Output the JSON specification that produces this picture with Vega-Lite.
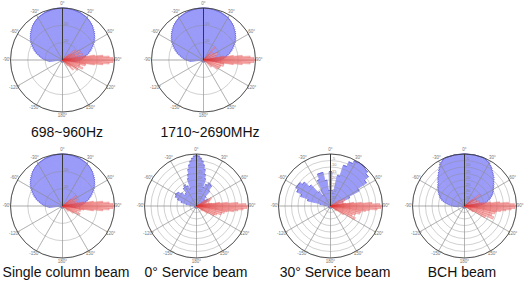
{
"$schema":"https://vega.github.io/schema/vega-lite/v6.json",
"padding":0,
"background":"white",
"spacing":6,
"config":{"view":{"stroke":null},"title":{"orient":"bottom","anchor":"middle","fontSize":14,"fontWeight":"normal","font":"Liberation Sans","color":"#111"}},
"datasets":{
"blue1":[{"a":-96.25,"b":-93.75,"r":0.26},{"a":-93.75,"b":-91.25,"r":0.295},{"a":-91.25,"b":-88.75,"r":0.33},{"a":-88.75,"b":-86.25,"r":0.36},{"a":-86.25,"b":-83.75,"r":0.39},{"a":-83.75,"b":-81.25,"r":0.42},{"a":-81.25,"b":-78.75,"r":0.45},{"a":-78.75,"b":-76.25,"r":0.485},{"a":-76.25,"b":-73.75,"r":0.52},{"a":-73.75,"b":-71.25,"r":0.55},{"a":-71.25,"b":-68.75,"r":0.58},{"a":-68.75,"b":-66.25,"r":0.61},{"a":-66.25,"b":-63.75,"r":0.64},{"a":-63.75,"b":-61.25,"r":0.67},{"a":-61.25,"b":-58.75,"r":0.70},{"a":-58.75,"b":-56.25,"r":0.725},{"a":-56.25,"b":-53.75,"r":0.75},{"a":-53.75,"b":-51.25,"r":0.775},{"a":-51.25,"b":-48.75,"r":0.80},{"a":-48.75,"b":-46.25,"r":0.82},{"a":-46.25,"b":-43.75,"r":0.84},{"a":-43.75,"b":-41.25,"r":0.86},{"a":-41.25,"b":-38.75,"r":0.88},{"a":-38.75,"b":-36.25,"r":0.895},{"a":-36.25,"b":-33.75,"r":0.91},{"a":-33.75,"b":-31.25,"r":0.925},{"a":-31.25,"b":-28.75,"r":0.94},{"a":-28.75,"b":-26.25,"r":0.948},{"a":-26.25,"b":-23.75,"r":0.955},{"a":-23.75,"b":-21.25,"r":0.963},{"a":-21.25,"b":-18.75,"r":0.97},{"a":-18.75,"b":-16.25,"r":0.975},{"a":-16.25,"b":-13.75,"r":0.98},{"a":-13.75,"b":-11.25,"r":0.985},{"a":-11.25,"b":-8.75,"r":0.99},{"a":-8.75,"b":-6.25,"r":0.995},{"a":-6.25,"b":6.25,"r":1.0},{"a":6.25,"b":8.75,"r":0.995},{"a":8.75,"b":11.25,"r":0.99},{"a":11.25,"b":13.75,"r":0.985},{"a":13.75,"b":16.25,"r":0.98},{"a":16.25,"b":18.75,"r":0.975},{"a":18.75,"b":21.25,"r":0.97},{"a":21.25,"b":23.75,"r":0.963},{"a":23.75,"b":26.25,"r":0.955},{"a":26.25,"b":28.75,"r":0.948},{"a":28.75,"b":31.25,"r":0.94},{"a":31.25,"b":33.75,"r":0.925},{"a":33.75,"b":36.25,"r":0.91},{"a":36.25,"b":38.75,"r":0.895},{"a":38.75,"b":41.25,"r":0.88},{"a":41.25,"b":43.75,"r":0.86},{"a":43.75,"b":46.25,"r":0.84},{"a":46.25,"b":48.75,"r":0.82},{"a":48.75,"b":51.25,"r":0.80},{"a":51.25,"b":53.75,"r":0.775},{"a":53.75,"b":56.25,"r":0.75},{"a":56.25,"b":58.75,"r":0.725},{"a":58.75,"b":61.25,"r":0.70},{"a":61.25,"b":63.75,"r":0.67},{"a":63.75,"b":66.25,"r":0.64},{"a":66.25,"b":68.75,"r":0.61},{"a":68.75,"b":71.25,"r":0.58},{"a":71.25,"b":73.75,"r":0.55},{"a":73.75,"b":76.25,"r":0.52},{"a":76.25,"b":78.75,"r":0.485},{"a":78.75,"b":81.25,"r":0.45},{"a":81.25,"b":83.75,"r":0.42},{"a":83.75,"b":86.25,"r":0.39},{"a":86.25,"b":88.75,"r":0.36},{"a":88.75,"b":91.25,"r":0.33},{"a":91.25,"b":93.75,"r":0.295},{"a":93.75,"b":96.25,"r":0.26},{"a":96.25,"b":263.75,"r":0.04}],
"blueS0":[{"a":-87.5,"b":-82.5,"r":0.12},{"a":-82.5,"b":-77.5,"r":0.2},{"a":-77.5,"b":-72.5,"r":0.3},{"a":-72.5,"b":-67.5,"r":0.38},{"a":-67.5,"b":-62.5,"r":0.44},{"a":-62.5,"b":-57.5,"r":0.46},{"a":-57.5,"b":-52.5,"r":0.44},{"a":-52.5,"b":-47.5,"r":0.38},{"a":-47.5,"b":-42.5,"r":0.3},{"a":-42.5,"b":-37.5,"r":0.32},{"a":-37.5,"b":-32.5,"r":0.42},{"a":-32.5,"b":-27.5,"r":0.46},{"a":-27.5,"b":-22.5,"r":0.42},{"a":-22.5,"b":-18.75,"r":0.35},{"a":-18.75,"b":-16.25,"r":0.55},{"a":-16.25,"b":-13.75,"r":0.63},{"a":-13.75,"b":-11.25,"r":0.72},{"a":-11.25,"b":-8.75,"r":0.8},{"a":-8.75,"b":-6.25,"r":0.87},{"a":-6.25,"b":-3.75,"r":0.92},{"a":-3.75,"b":-1.25,"r":0.96},{"a":-1.25,"b":1.25,"r":0.97},{"a":1.25,"b":3.75,"r":0.96},{"a":3.75,"b":6.25,"r":0.92},{"a":6.25,"b":8.75,"r":0.87},{"a":8.75,"b":11.25,"r":0.8},{"a":11.25,"b":13.75,"r":0.72},{"a":13.75,"b":16.25,"r":0.63},{"a":16.25,"b":18.75,"r":0.55},{"a":18.75,"b":22.5,"r":0.38},{"a":22.5,"b":27.5,"r":0.45},{"a":27.5,"b":32.5,"r":0.5},{"a":32.5,"b":37.5,"r":0.48},{"a":37.5,"b":42.5,"r":0.38},{"a":42.5,"b":47.5,"r":0.25},{"a":47.5,"b":52.5,"r":0.18},{"a":52.5,"b":57.5,"r":0.2},{"a":57.5,"b":62.5,"r":0.25},{"a":62.5,"b":67.5,"r":0.22},{"a":67.5,"b":72.5,"r":0.15},{"a":72.5,"b":77.5,"r":0.1},{"a":77.5,"b":272.5,"r":0.04}],
"blueS30":[{"a":-87.5,"b":-82.5,"r":0.1},{"a":-82.5,"b":-77.5,"r":0.2},{"a":-77.5,"b":-72.5,"r":0.45},{"a":-72.5,"b":-67.5,"r":0.6},{"a":-67.5,"b":-62.5,"r":0.7},{"a":-62.5,"b":-57.5,"r":0.75},{"a":-57.5,"b":-52.5,"r":0.74},{"a":-52.5,"b":-47.5,"r":0.68},{"a":-47.5,"b":-42.5,"r":0.55},{"a":-42.5,"b":-37.5,"r":0.35},{"a":-37.5,"b":-32.5,"r":0.25},{"a":-32.5,"b":-27.5,"r":0.35},{"a":-27.5,"b":-22.5,"r":0.55},{"a":-22.5,"b":-17.5,"r":0.66},{"a":-17.5,"b":-12.5,"r":0.66},{"a":-12.5,"b":-7.5,"r":0.5},{"a":-7.5,"b":-2.5,"r":0.3},{"a":-2.5,"b":2.5,"r":0.66},{"a":2.5,"b":7.5,"r":0.3},{"a":7.5,"b":12.5,"r":0.25},{"a":12.5,"b":17.5,"r":0.6},{"a":17.5,"b":22.5,"r":0.82},{"a":22.5,"b":27.5,"r":0.92},{"a":27.5,"b":32.5,"r":0.98},{"a":32.5,"b":37.5,"r":1.0},{"a":37.5,"b":42.5,"r":1.0},{"a":42.5,"b":47.5,"r":0.97},{"a":47.5,"b":52.5,"r":0.92},{"a":52.5,"b":57.5,"r":0.82},{"a":57.5,"b":62.5,"r":0.62},{"a":62.5,"b":67.5,"r":0.4},{"a":67.5,"b":72.5,"r":0.25},{"a":72.5,"b":77.5,"r":0.15},{"a":77.5,"b":272.5,"r":0.04}],
"blueB":[{"a":-96.25,"b":-93.75,"r":0.15},{"a":-93.75,"b":-91.25,"r":0.185},{"a":-91.25,"b":-88.75,"r":0.22},{"a":-88.75,"b":-86.25,"r":0.26},{"a":-86.25,"b":-83.75,"r":0.30},{"a":-83.75,"b":-81.25,"r":0.34},{"a":-81.25,"b":-78.75,"r":0.38},{"a":-78.75,"b":-76.25,"r":0.415},{"a":-76.25,"b":-73.75,"r":0.45},{"a":-73.75,"b":-71.25,"r":0.475},{"a":-71.25,"b":-68.75,"r":0.50},{"a":-68.75,"b":-66.25,"r":0.52},{"a":-66.25,"b":-63.75,"r":0.54},{"a":-63.75,"b":-61.25,"r":0.56},{"a":-61.25,"b":-58.75,"r":0.58},{"a":-58.75,"b":-56.25,"r":0.60},{"a":-56.25,"b":-53.75,"r":0.62},{"a":-53.75,"b":-51.25,"r":0.64},{"a":-51.25,"b":-48.75,"r":0.66},{"a":-48.75,"b":-46.25,"r":0.69},{"a":-46.25,"b":-43.75,"r":0.72},{"a":-43.75,"b":-41.25,"r":0.75},{"a":-41.25,"b":-38.75,"r":0.78},{"a":-38.75,"b":-36.25,"r":0.815},{"a":-36.25,"b":-33.75,"r":0.85},{"a":-33.75,"b":-31.25,"r":0.89},{"a":-31.25,"b":-28.75,"r":0.93},{"a":-28.75,"b":-26.25,"r":0.955},{"a":-26.25,"b":-23.75,"r":0.98},{"a":-23.75,"b":-21.25,"r":0.99},{"a":-21.25,"b":21.25,"r":1.0},{"a":21.25,"b":23.75,"r":0.99},{"a":23.75,"b":26.25,"r":0.98},{"a":26.25,"b":28.75,"r":0.965},{"a":28.75,"b":31.25,"r":0.95},{"a":31.25,"b":33.75,"r":0.925},{"a":33.75,"b":36.25,"r":0.9},{"a":36.25,"b":38.75,"r":0.87},{"a":38.75,"b":41.25,"r":0.84},{"a":41.25,"b":43.75,"r":0.815},{"a":43.75,"b":46.25,"r":0.79},{"a":46.25,"b":48.75,"r":0.76},{"a":48.75,"b":51.25,"r":0.73},{"a":51.25,"b":53.75,"r":0.705},{"a":53.75,"b":56.25,"r":0.68},{"a":56.25,"b":58.75,"r":0.66},{"a":58.75,"b":61.25,"r":0.64},{"a":61.25,"b":63.75,"r":0.62},{"a":63.75,"b":66.25,"r":0.60},{"a":66.25,"b":68.75,"r":0.575},{"a":68.75,"b":71.25,"r":0.55},{"a":71.25,"b":73.75,"r":0.52},{"a":73.75,"b":76.25,"r":0.49},{"a":76.25,"b":78.75,"r":0.455},{"a":78.75,"b":81.25,"r":0.42},{"a":81.25,"b":83.75,"r":0.375},{"a":83.75,"b":86.25,"r":0.33},{"a":86.25,"b":88.75,"r":0.285},{"a":88.75,"b":91.25,"r":0.24},{"a":91.25,"b":93.75,"r":0.2},{"a":93.75,"b":96.25,"r":0.16},{"a":96.25,"b":263.75,"r":0.04}],
"red1":[{"a":45,"b":50,"r":0.15},{"a":50,"b":55,"r":0.3},{"a":55,"b":60,"r":0.2},{"a":60,"b":65,"r":0.38},{"a":65,"b":70,"r":0.25},{"a":70,"b":75,"r":0.4},{"a":75,"b":79,"r":0.3},{"a":79,"b":81,"r":0.45},{"a":81,"b":83,"r":0.62},{"a":83,"b":85,"r":0.78},{"a":85,"b":87,"r":0.9},{"a":87,"b":89,"r":0.97},{"a":89,"b":91,"r":1.0},{"a":91,"b":93,"r":0.97},{"a":93,"b":95,"r":0.9},{"a":95,"b":97,"r":0.78},{"a":97,"b":99,"r":0.62},{"a":99,"b":101,"r":0.45},{"a":101,"b":105,"r":0.45},{"a":105,"b":110,"r":0.35},{"a":110,"b":115,"r":0.42},{"a":115,"b":120,"r":0.3},{"a":120,"b":125,"r":0.35},{"a":125,"b":130,"r":0.2},{"a":130,"b":135,"r":0.28},{"a":135,"b":140,"r":0.15}],
"red2":[{"a":40,"b":44,"r":0.33},{"a":44,"b":50,"r":0.15},{"a":50,"b":60,"r":0.22},{"a":60,"b":70,"r":0.3},{"a":70,"b":79,"r":0.25},{"a":79,"b":81,"r":0.4},{"a":81,"b":83,"r":0.58},{"a":83,"b":85,"r":0.75},{"a":85,"b":87,"r":0.9},{"a":87,"b":89,"r":0.97},{"a":89,"b":91,"r":1.0},{"a":91,"b":93,"r":0.97},{"a":93,"b":95,"r":0.9},{"a":95,"b":97,"r":0.75},{"a":97,"b":99,"r":0.58},{"a":99,"b":101,"r":0.4},{"a":101,"b":108,"r":0.4},{"a":108,"b":115,"r":0.35},{"a":115,"b":125,"r":0.32},{"a":125,"b":135,"r":0.2}],
"red3":[{"a":48,"b":52,"r":0.2},{"a":52,"b":56,"r":0.33},{"a":56,"b":62,"r":0.22},{"a":62,"b":68,"r":0.3},{"a":68,"b":74,"r":0.25},{"a":74,"b":79,"r":0.3},{"a":79,"b":81,"r":0.42},{"a":81,"b":83,"r":0.6},{"a":83,"b":85,"r":0.78},{"a":85,"b":87,"r":0.9},{"a":87,"b":89,"r":0.97},{"a":89,"b":91,"r":1.0},{"a":91,"b":93,"r":0.97},{"a":93,"b":95,"r":0.9},{"a":95,"b":97,"r":0.78},{"a":97,"b":99,"r":0.6},{"a":99,"b":101,"r":0.42},{"a":101,"b":107,"r":0.36},{"a":107,"b":113,"r":0.3},{"a":113,"b":118,"r":0.37},{"a":118,"b":125,"r":0.25},{"a":125,"b":135,"r":0.15}],
"redS":[{"a":55,"b":60,"r":0.2},{"a":60,"b":65,"r":0.32},{"a":65,"b":70,"r":0.28},{"a":70,"b":75,"r":0.2},{"a":75,"b":79,"r":0.25},{"a":79,"b":81,"r":0.3},{"a":81,"b":83,"r":0.45},{"a":83,"b":85,"r":0.6},{"a":85,"b":87,"r":0.8},{"a":87,"b":89,"r":0.95},{"a":89,"b":91,"r":1.0},{"a":91,"b":93,"r":0.97},{"a":93,"b":95,"r":0.9},{"a":95,"b":97,"r":0.8},{"a":97,"b":99,"r":0.72},{"a":99,"b":101,"r":0.6},{"a":101,"b":105,"r":0.55},{"a":105,"b":110,"r":0.5},{"a":110,"b":115,"r":0.42},{"a":115,"b":120,"r":0.38},{"a":120,"b":125,"r":0.25},{"a":125,"b":130,"r":0.15}],
"redS30":[{"a":55,"b":62,"r":0.2},{"a":62,"b":70,"r":0.3},{"a":70,"b":79,"r":0.25},{"a":79,"b":81,"r":0.3},{"a":81,"b":83,"r":0.45},{"a":83,"b":85,"r":0.6},{"a":85,"b":87,"r":0.8},{"a":87,"b":89,"r":0.95},{"a":89,"b":91,"r":1.0},{"a":91,"b":93,"r":0.97},{"a":93,"b":95,"r":0.9},{"a":95,"b":97,"r":0.75},{"a":97,"b":99,"r":0.68},{"a":99,"b":102,"r":0.6},{"a":102,"b":106,"r":0.58},{"a":106,"b":110,"r":0.5},{"a":110,"b":115,"r":0.45},{"a":115,"b":120,"r":0.53},{"a":120,"b":125,"r":0.3},{"a":125,"b":130,"r":0.15}],
"redB":[{"a":48,"b":52,"r":0.2},{"a":52,"b":56,"r":0.37},{"a":56,"b":60,"r":0.2},{"a":60,"b":70,"r":0.25},{"a":70,"b":79,"r":0.3},{"a":79,"b":81,"r":0.35},{"a":81,"b":83,"r":0.5},{"a":83,"b":85,"r":0.68},{"a":85,"b":87,"r":0.85},{"a":87,"b":89,"r":0.96},{"a":89,"b":91,"r":1.0},{"a":91,"b":93,"r":0.97},{"a":93,"b":95,"r":0.9},{"a":95,"b":97,"r":0.8},{"a":97,"b":99,"r":0.7},{"a":99,"b":101,"r":0.62},{"a":101,"b":105,"r":0.6},{"a":105,"b":110,"r":0.55},{"a":110,"b":115,"r":0.6},{"a":115,"b":120,"r":0.45},{"a":120,"b":125,"r":0.2}],
"rings3":[{"a":0,"b":360,"r":0.3333},{"a":0,"b":360,"r":0.6667}],
"rings8":[{"a":0,"b":360,"r":0.125},{"a":0,"b":360,"r":0.25},{"a":0,"b":360,"r":0.375},{"a":0,"b":360,"r":0.5},{"a":0,"b":360,"r":0.625},{"a":0,"b":360,"r":0.75},{"a":0,"b":360,"r":0.875}],
"outer":[{"a":0,"b":360,"r":1}],
"spokes":[{"a":0,"b":30},{"a":30,"b":60},{"a":60,"b":90},{"a":90,"b":120},{"a":120,"b":150},{"a":150,"b":180},{"a":180,"b":210},{"a":210,"b":240},{"a":240,"b":270},{"a":270,"b":300},{"a":300,"b":330},{"a":330,"b":360}],
"angLab":[{"t":0,"lab":"0°"},{"t":30,"lab":"30°"},{"t":60,"lab":"60°"},{"t":90,"lab":"90°"},{"t":120,"lab":"120°"},{"t":150,"lab":"150°"},{"t":180,"lab":"180°"},{"t":210,"lab":"-150°"},{"t":240,"lab":"-120°"},{"t":270,"lab":"-90°"},{"t":300,"lab":"-60°"},{"t":330,"lab":"-30°"}],
"ringLab3":[{"r":0.7,"lab":"-10"},{"r":0.37,"lab":"-20"}],
"ringLab8":[{"r":0.905,"lab":"-5"},{"r":0.78,"lab":"-10"},{"r":0.655,"lab":"-15"},{"r":0.53,"lab":"-20"},{"r":0.405,"lab":"-25"},{"r":0.28,"lab":"-30"},{"r":0.155,"lab":"-35"}]
},
"vconcat":[
{"bounds":"flush","spacing":16,"hconcat":[
{"width":125,"height":120,"title":{"text":"698~960Hz","offset":6,"dx":4.5},"layer":[
{"data":{"name":"blue1"},"mark":{"type":"arc","fill":"#9a9af8","stroke":"#9a9af8","strokeWidth":0.9},"encoding":{"theta":{"field":"a","type":"quantitative","stack":null,"scale":{"domain":[0,360],"range":[0,6.283185307],"nice":false}},"theta2":{"field":"b"},"radius":{"field":"r","type":"quantitative","scale":{"type":"linear","domain":[0,1],"range":[0,52],"nice":false}}}},
{"data":{"name":"blue1"},"mark":{"type":"arc","filled":false,"stroke":"#5a5ad0","strokeWidth":0.5},"encoding":{"theta":{"field":"a","type":"quantitative","stack":null,"scale":{"domain":[0,360],"range":[0,6.283185307],"nice":false}},"theta2":{"field":"b"},"radius":{"field":"r","type":"quantitative","scale":{"type":"linear","domain":[0,1],"range":[0,52],"nice":false}},"radius2":{"field":"r"}}},
{"data":{"name":"rings3"},"mark":{"type":"arc","filled":false,"stroke":"#8c8c8c","strokeWidth":0.5,"strokeOpacity":0.8},"encoding":{"theta":{"field":"a","type":"quantitative","stack":null,"scale":{"domain":[0,360],"range":[0,6.283185307],"nice":false}},"theta2":{"field":"b"},"radius":{"field":"r","type":"quantitative","scale":{"type":"linear","domain":[0,1],"range":[0,52],"nice":false}}}},
{"data":{"name":"spokes"},"mark":{"type":"arc","filled":false,"stroke":"#8c8c8c","strokeWidth":0.5,"strokeOpacity":0.8},"encoding":{"theta":{"field":"a","type":"quantitative","stack":null,"scale":{"domain":[0,360],"range":[0,6.283185307],"nice":false}},"theta2":{"field":"b"},"radius":{"datum":1,"type":"quantitative","scale":{"type":"linear","domain":[0,1],"range":[0,52],"nice":false}}}},
{"data":{"name":"red1"},"mark":{"type":"arc","fill":"#f49a9a","fillOpacity":0.65,"stroke":"#e03030","strokeWidth":0.3,"strokeOpacity":0.85},"encoding":{"theta":{"field":"a","type":"quantitative","stack":null,"scale":{"domain":[0,360],"range":[0,6.283185307],"nice":false}},"theta2":{"field":"b"},"radius":{"field":"r","type":"quantitative","scale":{"type":"linear","domain":[0,1],"range":[0,52],"nice":false}}}},
{"data":{"name":"outer"},"mark":{"type":"arc","filled":false,"stroke":"#333","strokeWidth":0.8},"encoding":{"theta":{"field":"a","type":"quantitative","stack":null,"scale":{"domain":[0,360],"range":[0,6.283185307],"nice":false}},"theta2":{"field":"b"},"radius":{"field":"r","type":"quantitative","scale":{"type":"linear","domain":[0,1],"range":[0,52],"nice":false}}}},
{"data":{"name":"angLab"},"mark":{"type":"text","fontSize":4.5,"fill":"#777","font":"Liberation Sans"},"encoding":{"theta":{"field":"t","type":"quantitative","stack":null,"scale":{"domain":[0,360],"range":[0,6.283185307],"nice":false}},"radius":{"datum":1.07,"type":"quantitative","scale":{"type":"linear","domain":[0,1],"range":[0,52],"nice":false}},"text":{"field":"lab"}}},
{"data":{"name":"ringLab3"},"mark":{"type":"text","fontSize":4,"fill":"#888","dx":3,"font":"Liberation Sans"},"encoding":{"theta":{"datum":0,"type":"quantitative","scale":{"domain":[0,360],"range":[0,6.283185307],"nice":false}},"radius":{"field":"r","type":"quantitative","scale":{"type":"linear","domain":[0,1],"range":[0,52],"nice":false}},"text":{"field":"lab"}}}
]},
{"width":125,"height":120,"title":{"text":"1710~2690MHz","offset":6,"dx":6.5},"layer":[
{"data":{"name":"blue1"},"mark":{"type":"arc","fill":"#9a9af8","stroke":"#9a9af8","strokeWidth":0.9},"encoding":{"theta":{"field":"a","type":"quantitative","stack":null,"scale":{"domain":[0,360],"range":[0,6.283185307],"nice":false}},"theta2":{"field":"b"},"radius":{"field":"r","type":"quantitative","scale":{"type":"linear","domain":[0,1],"range":[0,52],"nice":false}}}},
{"data":{"name":"blue1"},"mark":{"type":"arc","filled":false,"stroke":"#5a5ad0","strokeWidth":0.5},"encoding":{"theta":{"field":"a","type":"quantitative","stack":null,"scale":{"domain":[0,360],"range":[0,6.283185307],"nice":false}},"theta2":{"field":"b"},"radius":{"field":"r","type":"quantitative","scale":{"type":"linear","domain":[0,1],"range":[0,52],"nice":false}},"radius2":{"field":"r"}}},
{"data":{"name":"rings3"},"mark":{"type":"arc","filled":false,"stroke":"#8c8c8c","strokeWidth":0.5,"strokeOpacity":0.8},"encoding":{"theta":{"field":"a","type":"quantitative","stack":null,"scale":{"domain":[0,360],"range":[0,6.283185307],"nice":false}},"theta2":{"field":"b"},"radius":{"field":"r","type":"quantitative","scale":{"type":"linear","domain":[0,1],"range":[0,52],"nice":false}}}},
{"data":{"name":"spokes"},"mark":{"type":"arc","filled":false,"stroke":"#8c8c8c","strokeWidth":0.5,"strokeOpacity":0.8},"encoding":{"theta":{"field":"a","type":"quantitative","stack":null,"scale":{"domain":[0,360],"range":[0,6.283185307],"nice":false}},"theta2":{"field":"b"},"radius":{"datum":1,"type":"quantitative","scale":{"type":"linear","domain":[0,1],"range":[0,52],"nice":false}}}},
{"data":{"name":"red2"},"mark":{"type":"arc","fill":"#f49a9a","fillOpacity":0.65,"stroke":"#e03030","strokeWidth":0.3,"strokeOpacity":0.85},"encoding":{"theta":{"field":"a","type":"quantitative","stack":null,"scale":{"domain":[0,360],"range":[0,6.283185307],"nice":false}},"theta2":{"field":"b"},"radius":{"field":"r","type":"quantitative","scale":{"type":"linear","domain":[0,1],"range":[0,52],"nice":false}}}},
{"data":{"name":"outer"},"mark":{"type":"arc","filled":false,"stroke":"#333","strokeWidth":0.8},"encoding":{"theta":{"field":"a","type":"quantitative","stack":null,"scale":{"domain":[0,360],"range":[0,6.283185307],"nice":false}},"theta2":{"field":"b"},"radius":{"field":"r","type":"quantitative","scale":{"type":"linear","domain":[0,1],"range":[0,52],"nice":false}}}},
{"data":{"name":"angLab"},"mark":{"type":"text","fontSize":4.5,"fill":"#777","font":"Liberation Sans"},"encoding":{"theta":{"field":"t","type":"quantitative","stack":null,"scale":{"domain":[0,360],"range":[0,6.283185307],"nice":false}},"radius":{"datum":1.07,"type":"quantitative","scale":{"type":"linear","domain":[0,1],"range":[0,52],"nice":false}},"text":{"field":"lab"}}},
{"data":{"name":"ringLab3"},"mark":{"type":"text","fontSize":4,"fill":"#888","dx":3,"font":"Liberation Sans"},"encoding":{"theta":{"datum":0,"type":"quantitative","scale":{"domain":[0,360],"range":[0,6.283185307],"nice":false}},"radius":{"field":"r","type":"quantitative","scale":{"type":"linear","domain":[0,1],"range":[0,52],"nice":false}},"text":{"field":"lab"}}}
]}
]},
{"bounds":"flush","spacing":9,"hconcat":[
{"width":125,"height":120,"title":{"text":"Single column beam","offset":0,"dx":3.5},"layer":[
{"data":{"name":"blue1"},"mark":{"type":"arc","fill":"#9a9af8","stroke":"#9a9af8","strokeWidth":0.9},"encoding":{"theta":{"field":"a","type":"quantitative","stack":null,"scale":{"domain":[0,360],"range":[0,6.283185307],"nice":false}},"theta2":{"field":"b"},"radius":{"field":"r","type":"quantitative","scale":{"type":"linear","domain":[0,1],"range":[0,52],"nice":false}}}},
{"data":{"name":"blue1"},"mark":{"type":"arc","filled":false,"stroke":"#5a5ad0","strokeWidth":0.5},"encoding":{"theta":{"field":"a","type":"quantitative","stack":null,"scale":{"domain":[0,360],"range":[0,6.283185307],"nice":false}},"theta2":{"field":"b"},"radius":{"field":"r","type":"quantitative","scale":{"type":"linear","domain":[0,1],"range":[0,52],"nice":false}},"radius2":{"field":"r"}}},
{"data":{"name":"rings3"},"mark":{"type":"arc","filled":false,"stroke":"#8c8c8c","strokeWidth":0.5,"strokeOpacity":0.8},"encoding":{"theta":{"field":"a","type":"quantitative","stack":null,"scale":{"domain":[0,360],"range":[0,6.283185307],"nice":false}},"theta2":{"field":"b"},"radius":{"field":"r","type":"quantitative","scale":{"type":"linear","domain":[0,1],"range":[0,52],"nice":false}}}},
{"data":{"name":"spokes"},"mark":{"type":"arc","filled":false,"stroke":"#8c8c8c","strokeWidth":0.5,"strokeOpacity":0.8},"encoding":{"theta":{"field":"a","type":"quantitative","stack":null,"scale":{"domain":[0,360],"range":[0,6.283185307],"nice":false}},"theta2":{"field":"b"},"radius":{"datum":1,"type":"quantitative","scale":{"type":"linear","domain":[0,1],"range":[0,52],"nice":false}}}},
{"data":{"name":"red3"},"mark":{"type":"arc","fill":"#f49a9a","fillOpacity":0.65,"stroke":"#e03030","strokeWidth":0.3,"strokeOpacity":0.85},"encoding":{"theta":{"field":"a","type":"quantitative","stack":null,"scale":{"domain":[0,360],"range":[0,6.283185307],"nice":false}},"theta2":{"field":"b"},"radius":{"field":"r","type":"quantitative","scale":{"type":"linear","domain":[0,1],"range":[0,52],"nice":false}}}},
{"data":{"name":"outer"},"mark":{"type":"arc","filled":false,"stroke":"#333","strokeWidth":0.8},"encoding":{"theta":{"field":"a","type":"quantitative","stack":null,"scale":{"domain":[0,360],"range":[0,6.283185307],"nice":false}},"theta2":{"field":"b"},"radius":{"field":"r","type":"quantitative","scale":{"type":"linear","domain":[0,1],"range":[0,52],"nice":false}}}},
{"data":{"name":"angLab"},"mark":{"type":"text","fontSize":4.5,"fill":"#777","font":"Liberation Sans"},"encoding":{"theta":{"field":"t","type":"quantitative","stack":null,"scale":{"domain":[0,360],"range":[0,6.283185307],"nice":false}},"radius":{"datum":1.07,"type":"quantitative","scale":{"type":"linear","domain":[0,1],"range":[0,52],"nice":false}},"text":{"field":"lab"}}},
{"data":{"name":"ringLab3"},"mark":{"type":"text","fontSize":4,"fill":"#888","dx":3,"font":"Liberation Sans"},"encoding":{"theta":{"datum":0,"type":"quantitative","scale":{"domain":[0,360],"range":[0,6.283185307],"nice":false}},"radius":{"field":"r","type":"quantitative","scale":{"type":"linear","domain":[0,1],"range":[0,52],"nice":false}},"text":{"field":"lab"}}}
]},
{"width":125,"height":120,"title":{"text":"0° Service beam","offset":0,"dx":-0.5},"layer":[
{"data":{"name":"blueS0"},"mark":{"type":"arc","fill":"#9a9af8","stroke":"#9a9af8","strokeWidth":0.9},"encoding":{"theta":{"field":"a","type":"quantitative","stack":null,"scale":{"domain":[0,360],"range":[0,6.283185307],"nice":false}},"theta2":{"field":"b"},"radius":{"field":"r","type":"quantitative","scale":{"type":"linear","domain":[0,1],"range":[0,52],"nice":false}}}},
{"data":{"name":"blueS0"},"mark":{"type":"arc","filled":false,"stroke":"#5a5ad0","strokeWidth":0.5},"encoding":{"theta":{"field":"a","type":"quantitative","stack":null,"scale":{"domain":[0,360],"range":[0,6.283185307],"nice":false}},"theta2":{"field":"b"},"radius":{"field":"r","type":"quantitative","scale":{"type":"linear","domain":[0,1],"range":[0,52],"nice":false}},"radius2":{"field":"r"}}},
{"data":{"name":"rings8"},"mark":{"type":"arc","filled":false,"stroke":"#8c8c8c","strokeWidth":0.5,"strokeOpacity":0.8},"encoding":{"theta":{"field":"a","type":"quantitative","stack":null,"scale":{"domain":[0,360],"range":[0,6.283185307],"nice":false}},"theta2":{"field":"b"},"radius":{"field":"r","type":"quantitative","scale":{"type":"linear","domain":[0,1],"range":[0,52],"nice":false}}}},
{"data":{"name":"spokes"},"mark":{"type":"arc","filled":false,"stroke":"#8c8c8c","strokeWidth":0.5,"strokeOpacity":0.8},"encoding":{"theta":{"field":"a","type":"quantitative","stack":null,"scale":{"domain":[0,360],"range":[0,6.283185307],"nice":false}},"theta2":{"field":"b"},"radius":{"datum":1,"type":"quantitative","scale":{"type":"linear","domain":[0,1],"range":[0,52],"nice":false}}}},
{"data":{"name":"redS"},"mark":{"type":"arc","fill":"#f49a9a","fillOpacity":0.65,"stroke":"#e03030","strokeWidth":0.3,"strokeOpacity":0.85},"encoding":{"theta":{"field":"a","type":"quantitative","stack":null,"scale":{"domain":[0,360],"range":[0,6.283185307],"nice":false}},"theta2":{"field":"b"},"radius":{"field":"r","type":"quantitative","scale":{"type":"linear","domain":[0,1],"range":[0,52],"nice":false}}}},
{"data":{"name":"outer"},"mark":{"type":"arc","filled":false,"stroke":"#333","strokeWidth":0.8},"encoding":{"theta":{"field":"a","type":"quantitative","stack":null,"scale":{"domain":[0,360],"range":[0,6.283185307],"nice":false}},"theta2":{"field":"b"},"radius":{"field":"r","type":"quantitative","scale":{"type":"linear","domain":[0,1],"range":[0,52],"nice":false}}}},
{"data":{"name":"angLab"},"mark":{"type":"text","fontSize":4.5,"fill":"#777","font":"Liberation Sans"},"encoding":{"theta":{"field":"t","type":"quantitative","stack":null,"scale":{"domain":[0,360],"range":[0,6.283185307],"nice":false}},"radius":{"datum":1.07,"type":"quantitative","scale":{"type":"linear","domain":[0,1],"range":[0,52],"nice":false}},"text":{"field":"lab"}}},
{"data":{"name":"ringLab8"},"mark":{"type":"text","fontSize":4,"fill":"#888","dx":3,"font":"Liberation Sans"},"encoding":{"theta":{"datum":0,"type":"quantitative","scale":{"domain":[0,360],"range":[0,6.283185307],"nice":false}},"radius":{"field":"r","type":"quantitative","scale":{"type":"linear","domain":[0,1],"range":[0,52],"nice":false}},"text":{"field":"lab"}}}
]},
{"width":125,"height":120,"title":{"text":"30° Service beam","offset":0,"dx":4.5},"layer":[
{"data":{"name":"blueS30"},"mark":{"type":"arc","fill":"#9a9af8","stroke":"#9a9af8","strokeWidth":0.9},"encoding":{"theta":{"field":"a","type":"quantitative","stack":null,"scale":{"domain":[0,360],"range":[0,6.283185307],"nice":false}},"theta2":{"field":"b"},"radius":{"field":"r","type":"quantitative","scale":{"type":"linear","domain":[0,1],"range":[0,52],"nice":false}}}},
{"data":{"name":"blueS30"},"mark":{"type":"arc","filled":false,"stroke":"#5a5ad0","strokeWidth":0.5},"encoding":{"theta":{"field":"a","type":"quantitative","stack":null,"scale":{"domain":[0,360],"range":[0,6.283185307],"nice":false}},"theta2":{"field":"b"},"radius":{"field":"r","type":"quantitative","scale":{"type":"linear","domain":[0,1],"range":[0,52],"nice":false}},"radius2":{"field":"r"}}},
{"data":{"name":"rings8"},"mark":{"type":"arc","filled":false,"stroke":"#8c8c8c","strokeWidth":0.5,"strokeOpacity":0.8},"encoding":{"theta":{"field":"a","type":"quantitative","stack":null,"scale":{"domain":[0,360],"range":[0,6.283185307],"nice":false}},"theta2":{"field":"b"},"radius":{"field":"r","type":"quantitative","scale":{"type":"linear","domain":[0,1],"range":[0,52],"nice":false}}}},
{"data":{"name":"spokes"},"mark":{"type":"arc","filled":false,"stroke":"#8c8c8c","strokeWidth":0.5,"strokeOpacity":0.8},"encoding":{"theta":{"field":"a","type":"quantitative","stack":null,"scale":{"domain":[0,360],"range":[0,6.283185307],"nice":false}},"theta2":{"field":"b"},"radius":{"datum":1,"type":"quantitative","scale":{"type":"linear","domain":[0,1],"range":[0,52],"nice":false}}}},
{"data":{"name":"redS30"},"mark":{"type":"arc","fill":"#f49a9a","fillOpacity":0.65,"stroke":"#e03030","strokeWidth":0.3,"strokeOpacity":0.85},"encoding":{"theta":{"field":"a","type":"quantitative","stack":null,"scale":{"domain":[0,360],"range":[0,6.283185307],"nice":false}},"theta2":{"field":"b"},"radius":{"field":"r","type":"quantitative","scale":{"type":"linear","domain":[0,1],"range":[0,52],"nice":false}}}},
{"data":{"name":"outer"},"mark":{"type":"arc","filled":false,"stroke":"#333","strokeWidth":0.8},"encoding":{"theta":{"field":"a","type":"quantitative","stack":null,"scale":{"domain":[0,360],"range":[0,6.283185307],"nice":false}},"theta2":{"field":"b"},"radius":{"field":"r","type":"quantitative","scale":{"type":"linear","domain":[0,1],"range":[0,52],"nice":false}}}},
{"data":{"name":"angLab"},"mark":{"type":"text","fontSize":4.5,"fill":"#777","font":"Liberation Sans"},"encoding":{"theta":{"field":"t","type":"quantitative","stack":null,"scale":{"domain":[0,360],"range":[0,6.283185307],"nice":false}},"radius":{"datum":1.07,"type":"quantitative","scale":{"type":"linear","domain":[0,1],"range":[0,52],"nice":false}},"text":{"field":"lab"}}},
{"data":{"name":"ringLab8"},"mark":{"type":"text","fontSize":4,"fill":"#888","dx":3,"font":"Liberation Sans"},"encoding":{"theta":{"datum":0,"type":"quantitative","scale":{"domain":[0,360],"range":[0,6.283185307],"nice":false}},"radius":{"field":"r","type":"quantitative","scale":{"type":"linear","domain":[0,1],"range":[0,52],"nice":false}},"text":{"field":"lab"}}}
]},
{"width":125,"height":120,"title":{"text":"BCH beam","offset":0,"dx":-2.5},"layer":[
{"data":{"name":"blueB"},"mark":{"type":"arc","fill":"#9a9af8","stroke":"#9a9af8","strokeWidth":0.9},"encoding":{"theta":{"field":"a","type":"quantitative","stack":null,"scale":{"domain":[0,360],"range":[0,6.283185307],"nice":false}},"theta2":{"field":"b"},"radius":{"field":"r","type":"quantitative","scale":{"type":"linear","domain":[0,1],"range":[0,52],"nice":false}}}},
{"data":{"name":"blueB"},"mark":{"type":"arc","filled":false,"stroke":"#5a5ad0","strokeWidth":0.5},"encoding":{"theta":{"field":"a","type":"quantitative","stack":null,"scale":{"domain":[0,360],"range":[0,6.283185307],"nice":false}},"theta2":{"field":"b"},"radius":{"field":"r","type":"quantitative","scale":{"type":"linear","domain":[0,1],"range":[0,52],"nice":false}},"radius2":{"field":"r"}}},
{"data":{"name":"rings8"},"mark":{"type":"arc","filled":false,"stroke":"#8c8c8c","strokeWidth":0.5,"strokeOpacity":0.8},"encoding":{"theta":{"field":"a","type":"quantitative","stack":null,"scale":{"domain":[0,360],"range":[0,6.283185307],"nice":false}},"theta2":{"field":"b"},"radius":{"field":"r","type":"quantitative","scale":{"type":"linear","domain":[0,1],"range":[0,52],"nice":false}}}},
{"data":{"name":"spokes"},"mark":{"type":"arc","filled":false,"stroke":"#8c8c8c","strokeWidth":0.5,"strokeOpacity":0.8},"encoding":{"theta":{"field":"a","type":"quantitative","stack":null,"scale":{"domain":[0,360],"range":[0,6.283185307],"nice":false}},"theta2":{"field":"b"},"radius":{"datum":1,"type":"quantitative","scale":{"type":"linear","domain":[0,1],"range":[0,52],"nice":false}}}},
{"data":{"name":"redB"},"mark":{"type":"arc","fill":"#f49a9a","fillOpacity":0.65,"stroke":"#e03030","strokeWidth":0.3,"strokeOpacity":0.85},"encoding":{"theta":{"field":"a","type":"quantitative","stack":null,"scale":{"domain":[0,360],"range":[0,6.283185307],"nice":false}},"theta2":{"field":"b"},"radius":{"field":"r","type":"quantitative","scale":{"type":"linear","domain":[0,1],"range":[0,52],"nice":false}}}},
{"data":{"name":"outer"},"mark":{"type":"arc","filled":false,"stroke":"#333","strokeWidth":0.8},"encoding":{"theta":{"field":"a","type":"quantitative","stack":null,"scale":{"domain":[0,360],"range":[0,6.283185307],"nice":false}},"theta2":{"field":"b"},"radius":{"field":"r","type":"quantitative","scale":{"type":"linear","domain":[0,1],"range":[0,52],"nice":false}}}},
{"data":{"name":"angLab"},"mark":{"type":"text","fontSize":4.5,"fill":"#777","font":"Liberation Sans"},"encoding":{"theta":{"field":"t","type":"quantitative","stack":null,"scale":{"domain":[0,360],"range":[0,6.283185307],"nice":false}},"radius":{"datum":1.07,"type":"quantitative","scale":{"type":"linear","domain":[0,1],"range":[0,52],"nice":false}},"text":{"field":"lab"}}},
{"data":{"name":"ringLab8"},"mark":{"type":"text","fontSize":4,"fill":"#888","dx":3,"font":"Liberation Sans"},"encoding":{"theta":{"datum":0,"type":"quantitative","scale":{"domain":[0,360],"range":[0,6.283185307],"nice":false}},"radius":{"field":"r","type":"quantitative","scale":{"type":"linear","domain":[0,1],"range":[0,52],"nice":false}},"text":{"field":"lab"}}}
]}
]}
]
}
